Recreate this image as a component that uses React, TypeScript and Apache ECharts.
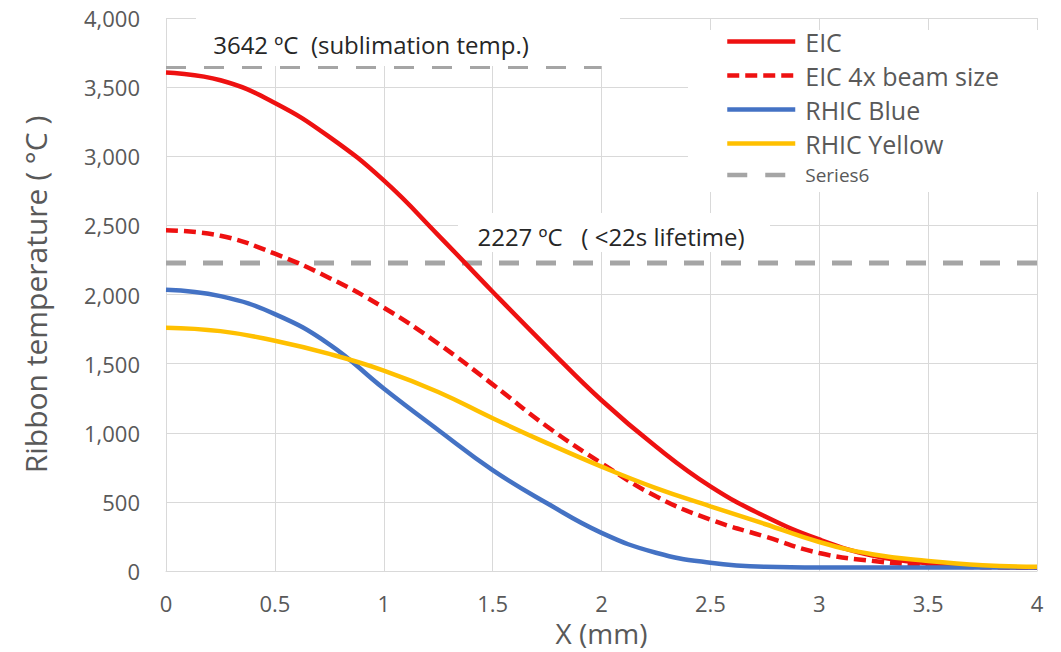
import React, { useEffect, useRef } from "react";
import * as echarts from "echarts";

const xValues = [0, 0.25, 0.5, 0.75, 1, 1.25, 1.5, 1.75, 2, 2.25, 2.5, 2.75, 3, 3.25, 3.5, 3.75, 4];
const eic = [3605, 3550, 3385, 3140, 2825, 2430, 2020, 1620, 1235, 900, 612, 396, 228, 110, 55, 32, 25];
const eic4x = [2465, 2425, 2295, 2120, 1905, 1645, 1350, 1045, 780, 540, 372, 250, 130, 72, 40, 28, 25];
const rhicBlue = [2035, 1988, 1858, 1640, 1320, 1020, 730, 490, 276, 132, 60, 30, 25, 25, 25, 25, 25];
const rhicYellow = [1760, 1735, 1665, 1570, 1450, 1295, 1105, 925, 755, 600, 468, 340, 210, 120, 73, 42, 30];
const series6X = [0, 2];
const series6Y = [3642, 3642];
const limitX = [0, 4];
const limitY = [2227, 2227];

const legendNames = ["EIC", "EIC 4x beam size", "RHIC Blue", "RHIC Yellow", "Series6"];
const annotation1 = "3642 ºC  (sublimation temp.)";
const annotation2 = "2227 ºC   ( <22s lifetime)";
const xAxisName = "X (mm)";
const yAxisName = "Ribbon temperature ( °C )";

const FONT = "Open Sans";

function pairs(xs: number[], ys: number[]) {
  return xs.map((x, i) => [x, ys[i]]);
}

export default function App() {
  const ref = useRef<HTMLDivElement>(null);
  useEffect(() => {
    if (!ref.current) return;
    const chart = echarts.init(ref.current, null, { renderer: "svg" });
    const lineBase = {
      type: "line",
      showSymbol: false,
      symbol: "none",
      smooth: 0.45,
    };
    chart.setOption({
      animation: false,
      backgroundColor: "#ffffff",
      textStyle: { fontFamily: FONT },
      grid: {
        left: 166,
        top: 18,
        width: 871,
        height: 553,
        containLabel: false,
        outerBoundsMode: "none",
      },
      xAxis: {
        type: "value",
        min: 0,
        max: 4,
        interval: 0.5,
        name: xAxisName,
        nameLocation: "middle",
        nameGap: 46,
        nameTextStyle: { fontSize: 28, lineHeight: 28, color: "#595959", fontFamily: FONT },
        axisLine: { show: true, lineStyle: { color: "#D9D9D9", width: 1 } },
        axisTick: { show: false },
        axisLabel: { fontSize: 22, lineHeight: 22, color: "#595959", margin: 21, fontFamily: FONT },
        splitLine: { show: true, lineStyle: { color: "#D9D9D9", width: 1 } },
      },
      yAxis: {
        type: "value",
        min: 0,
        max: 4000,
        interval: 500,
        name: yAxisName,
        nameLocation: "middle",
        nameGap: 116,
        nameRotate: 90,
        nameTextStyle: { fontSize: 30, color: "#595959", fontFamily: FONT },
        axisLine: { show: false },
        axisTick: { show: false },
        axisLabel: {
          fontSize: 22,
          color: "#595959",
          margin: 26,
          fontFamily: FONT,
          formatter: (v: number) => v.toLocaleString("en-US"),
        },
        splitLine: { show: true, lineStyle: { color: "#D9D9D9", width: 1 } },
      },
      legend: {
        orient: "vertical",
        left: 725,
        top: 29,
        padding: 0,
        itemWidth: 68,
        itemHeight: 20,
        itemGap: 9,
        data: legendNames,
        itemStyle: { opacity: 0 },
        lineStyle: { width: 4.5 },
        formatter: (name: string) => (name === "Series6" ? `{s|${name}}` : `{b|${name}}`),
        textStyle: {
          color: "#595959",
          fontFamily: FONT,
          fontSize: 25,
          lineHeight: 20,
          padding: [0, 0, 0, 5],
          rich: {
            b: { fontSize: 25, lineHeight: 20, color: "#595959", fontFamily: FONT },
            s: { fontSize: 19, lineHeight: 20, color: "#595959", fontFamily: FONT },
          },
        },
      },
      graphic: [
        { type: "rect", z: 1, shape: { x: 196, y: 8, width: 424, height: 58 }, style: { fill: "#ffffff" } },
        { type: "rect", z: 1, shape: { x: 458, y: 213, width: 312, height: 39 }, style: { fill: "#ffffff" } },
        { type: "rect", z: 1, shape: { x: 688, y: 30, width: 373, height: 162 }, style: { fill: "#ffffff" } },
        {
          type: "text",
          z: 3,
          x: 371,
          y: 44,
          style: {
            text: annotation1,
            fontSize: 24,
            fontFamily: FONT,
            fill: "#262626",
            align: "center",
            verticalAlign: "middle",
          },
        },
        {
          type: "text",
          z: 3,
          x: 611,
          y: 236,
          style: {
            text: annotation2,
            fontSize: 24,
            fontFamily: FONT,
            fill: "#262626",
            align: "center",
            verticalAlign: "middle",
          },
        },
      ],
      series: [
        {
          ...lineBase,
          name: "2227 limit",
          smooth: false,
          data: pairs(limitX, limitY),
          lineStyle: { color: "#A5A5A5", width: 5, type: [20, 17] },
          itemStyle: { color: "#A5A5A5" },
        },
        {
          ...lineBase,
          name: "Series6",
          smooth: false,
          data: pairs(series6X, series6Y),
          lineStyle: { color: "#A5A5A5", width: 3, type: [20, 18] },
          itemStyle: { color: "#A5A5A5" },
        },
        {
          ...lineBase,
          name: "EIC",
          data: pairs(xValues, eic),
          lineStyle: { color: "#EE1111", width: 4.5 },
          itemStyle: { color: "#EE1111" },
        },
        {
          ...lineBase,
          name: "EIC 4x beam size",
          data: pairs(xValues, eic4x),
          lineStyle: { color: "#EE1111", width: 4.5, type: [12, 6] },
          itemStyle: { color: "#EE1111" },
        },
        {
          ...lineBase,
          name: "RHIC Blue",
          data: pairs(xValues, rhicBlue),
          lineStyle: { color: "#4472C4", width: 4.5 },
          itemStyle: { color: "#4472C4" },
        },
        {
          ...lineBase,
          name: "RHIC Yellow",
          data: pairs(xValues, rhicYellow),
          lineStyle: { color: "#FFC000", width: 4.5 },
          itemStyle: { color: "#FFC000" },
        },
      ],
    });
    return () => chart.dispose();
  }, []);
  return (
    <div
      ref={ref}
      style={{ position: "absolute", left: 0, top: 0, width: 1061, height: 652 }}
    />
  );
}
